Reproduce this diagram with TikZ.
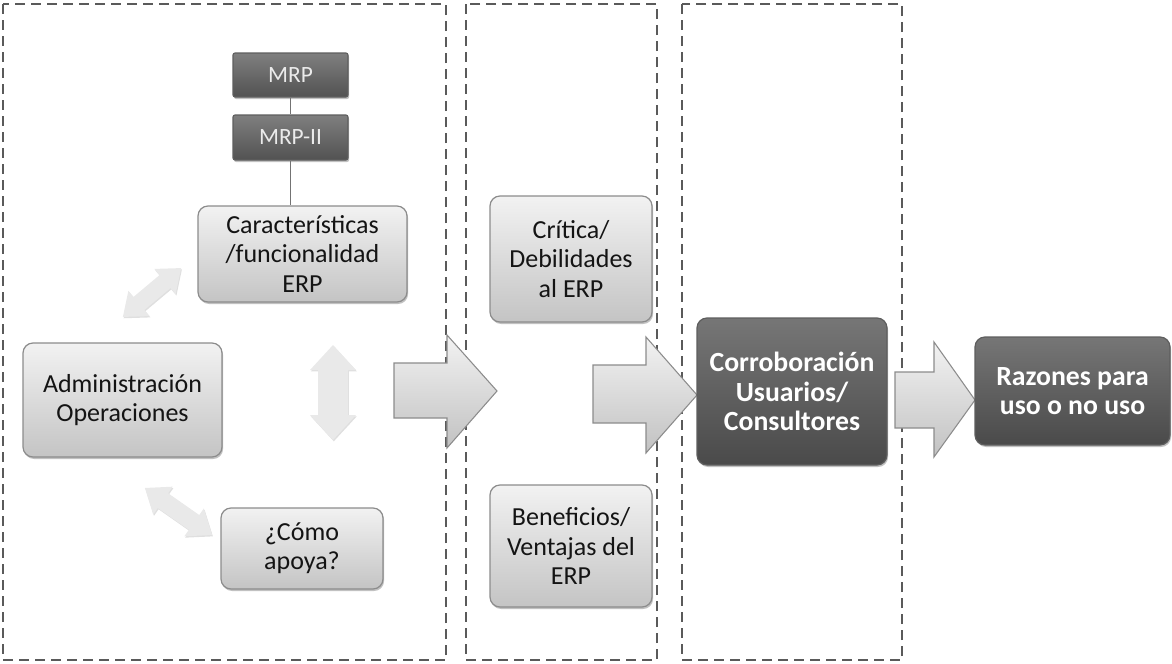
\documentclass[tikz,border=0pt]{standalone}
\usepackage{fontspec}
\setmainfont{Carlito}
\usetikzlibrary{shadows}
\definecolor{dashc}{HTML}{5A5A5A}
\definecolor{lbtop}{HTML}{F2F2F2}
\definecolor{lbbot}{HTML}{C4C4C4}
\definecolor{lbdraw}{HTML}{8C8C8C}
\definecolor{dktop}{HTML}{767676}
\definecolor{dkbot}{HTML}{4A4A4A}
\definecolor{dkdraw}{HTML}{5E5E5E}
\definecolor{dblfill}{HTML}{E9E9E9}
\newcommand\dblarrow[7]{%
  \begin{scope}[shift={(#1,#2)}, rotate=#3]
    \fill[dblshadow] ({-#4/2},0) -- ({-#4/2+#7},{#6/2}) -- ({-#4/2+#7},{#5/2}) -- ({#4/2-#7},{#5/2}) -- ({#4/2-#7},{#6/2}) -- ({#4/2},0) -- ({#4/2-#7},{-#6/2}) -- ({#4/2-#7},{-#5/2}) -- ({-#4/2+#7},{-#5/2}) -- ({-#4/2+#7},{-#6/2}) -- cycle;
  \end{scope}}
\begin{document}
\begin{tikzpicture}[x=0.75pt,y=-0.75pt,
  dashbox/.style={draw=dashc, line width=1.5pt, dash pattern=on 7.5pt off 4.5pt},
  shad/.style={drop shadow={shadow xshift=0.8pt, shadow yshift=-1.5pt, opacity=0.35, fill=black!70}},
  lightbox/.style={draw=lbdraw, line width=0.9pt, rounded corners=7.5pt, top color=lbtop, bottom color=lbbot, shad, align=center, text=black!92, font=\fontsize{19.5}{21.8}\selectfont, inner sep=2pt},
  darkbox/.style={draw=dkdraw, line width=0.9pt, rounded corners=7.5pt, top color=dktop, bottom color=dkbot, shad, align=center, text=white, font=\bfseries\fontsize{20.8}{22.2}\selectfont, inner sep=2pt},
  mrpbox/.style={draw=dkdraw, line width=0.8pt, rounded corners=1.5pt, top color=black!50, bottom color=black!68, shad, align=center, text=black!8, font=\fontsize{17.5}{19}\selectfont, inner sep=2pt},
  conn/.style={draw=black!55, line width=0.8pt},
  bigarrow/.style={draw=black!45, line width=0.8pt, top color=black!5, bottom color=black!24},
  dblshadow/.style={fill=dblfill, drop shadow={shadow xshift=0.6pt, shadow yshift=-1pt, opacity=0.25, fill=black!50}}
]
\useasboundingbox (0,0) rectangle (1172,664);
% dashed frames
\draw[dashbox] (3,4) rectangle (446,660);
\draw[dashbox] (466,4) rectangle (657,660);
\draw[dashbox] (682,4) rectangle (902,660);

% big arrows
\draw[bigarrow] (394,363) -- (447,363) -- (447,335) -- (497,391) -- (447,448) -- (447,418) -- (394,418) -- cycle;
\draw[bigarrow] (593,365) -- (646,365) -- (646,337) -- (697,395) -- (646,453) -- (646,423) -- (593,423) -- cycle;
\draw[bigarrow] (895,372) -- (934,372) -- (934,342) -- (975,400) -- (934,457) -- (934,428) -- (895,428) -- cycle;

% double arrows
\dblarrow{152}{292.5}{40}{76}{17}{33}{21}
\dblarrow{333}{392.5}{90}{95}{30}{46}{25}
\dblarrow{178.5}{511.5}{-35}{82}{18}{34}{22}

% nodes
\node[mrpbox, minimum width=86.25pt, minimum height=33pt] (mrp) at (290.5,75) {MRP};
\node[mrpbox, minimum width=86.25pt, minimum height=33.75pt] (mrp2) at (290.5,137.5) {MRP-II};
\node[lightbox, minimum width=156.75pt, minimum height=72pt] (car) at (302.5,254) {Características\\/funcionalidad\\ERP};
\node[lightbox, minimum width=149.25pt, minimum height=85.5pt] (adm) at (122.5,400) {Administración\\Operaciones};
\node[lightbox, minimum width=121.5pt, minimum height=60.75pt] (como) at (302,548.5) {¿Cómo\\apoya?};
\node[lightbox, minimum width=121.5pt, minimum height=94.5pt] (crit) at (571,259) {Crítica/\\Debilidades\\al ERP};
\node[lightbox, minimum width=121.5pt, minimum height=91.5pt] (ben) at (571,546) {Beneficios/\\Ventajas del\\ERP};
\node[darkbox, minimum width=142.5pt, minimum height=110.25pt] (cor) at (792,391.5) {Corroboración\\Usuarios/\\Consultores};
\node[darkbox, minimum width=146.25pt, minimum height=81pt] (raz) at (1072.5,391) {Razones para\\uso o no uso};

% connectors
\draw[conn] (mrp.south) -- (mrp2.north);
\draw[conn] (mrp2.south) -- (mrp2.south |- car.north);
\end{tikzpicture}
\end{document}
